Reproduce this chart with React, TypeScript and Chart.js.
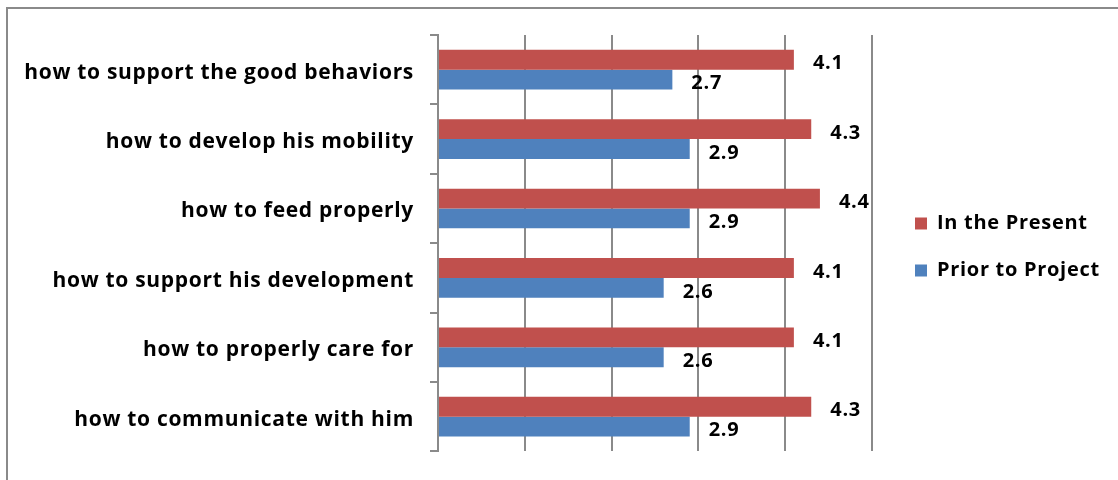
import React, { useEffect, useRef } from "react";
import { Chart, registerables } from "chart.js";

Chart.register(...registerables);

const categories = [
  "how to support the good behaviors",
  "how to develop his mobility",
  "how to feed properly",
  "how to support his development",
  "how to properly care for",
  "how to communicate with him",
];
const presentValues = [4.1, 4.3, 4.4, 4.1, 4.1, 4.3];
const priorValues = [2.7, 2.9, 2.9, 2.6, 2.6, 2.9];
const seriesNames = ["In the Present", "Prior to Project"];

const FONT = "'Open Sans', Lato, sans-serif";
const LETTER_SPACING = "0.7px";

const spacingPlugin = {
  id: "letterSpacing",
  beforeUpdate(chart: any) {
    (chart.ctx as any).letterSpacing = LETTER_SPACING;
  },
  beforeLayout(chart: any) {
    (chart.ctx as any).letterSpacing = LETTER_SPACING;
  },
  beforeDraw(chart: any) {
    (chart.ctx as any).letterSpacing = LETTER_SPACING;
  },
};

const legendPlacePlugin = {
  id: "legendPlace",
  afterInit(chart: any) {
    const lg = chart.legend;
    if (lg && !lg.__patched) {
      const orig = lg.fit.bind(lg);
      lg.fit = function () {
        orig();
        this.width = 246;
      };
      lg.__patched = true;
    }
  },
  afterLayout(chart: any) {
    const lg = chart.legend;
    if (lg) {
      lg.left += 16;
      lg.right += 16;
      lg.top += 2;
      lg.bottom += 2;
    }
  },
};

const borderPlugin = {
  id: "outerBorder",
  beforeDraw(chart: any) {
    const ctx = chart.ctx;
    ctx.save();
    ctx.fillStyle = "#ffffff";
    ctx.fillRect(0, 0, chart.width, chart.height);
    ctx.strokeStyle = "#8a8a8a";
    ctx.lineWidth = 2;
    ctx.strokeRect(7, 8, chart.width + 20, chart.height + 20);
    ctx.restore();
  },
};

const valueLabelPlugin = {
  id: "valueLabels",
  afterDatasetsDraw(chart: any) {
    const ctx = chart.ctx;
    ctx.save();
    ctx.fillStyle = "#000000";
    ctx.font = `bold 20px ${FONT}`;
    ctx.textAlign = "left";
    ctx.textBaseline = "middle";
    chart.data.datasets.forEach((ds: any, di: number) => {
      const meta = chart.getDatasetMeta(di);
      meta.data.forEach((el: any, i: number) => {
        const v = ds.data[i] as number;
        ctx.fillText(v.toFixed(1), el.x + 19, el.y + 4);
      });
    });
    ctx.restore();
  },
};

export default function App() {
  const ref = useRef<HTMLCanvasElement | null>(null);
  useEffect(() => {
    if (!ref.current) return;
    const chart = new Chart(ref.current, {
      type: "bar",
      data: {
        labels: categories,
        datasets: [
          {
            label: seriesNames[0],
            data: presentValues,
            backgroundColor: "#C0504D",
            categoryPercentage: 0.572,
            barPercentage: 1.0,
          },
          {
            label: seriesNames[1],
            data: priorValues,
            backgroundColor: "#4F81BD",
            categoryPercentage: 0.572,
            barPercentage: 1.0,
          },
        ],
      },
      options: {
        indexAxis: "y",
        animation: false,
        responsive: false,
        maintainAspectRatio: false,
        layout: { padding: { left: 0, top: 35, bottom: 25, right: 0 } },
        scales: {
          x: {
            min: 0,
            max: 5,
            ticks: { display: false, stepSize: 1 },
            border: { display: false },
            grid: { color: "#8a8a8a", lineWidth: 2, drawTicks: false },
            afterFit(scale: any) {
              scale.height = 0;
            },
          },
          y: {
            ticks: {
              color: "#000000",
              font: { family: FONT, weight: "bold", size: 21 },
              padding: 16,
              labelOffset: 3,
            },
            border: { display: true, color: "#8a8a8a", width: 2 },
            grid: {
              drawOnChartArea: false,
              drawTicks: true,
              tickLength: 8,
              color: "#8a8a8a",
              lineWidth: 2,
            },
            afterFit(scale: any) {
              scale.width = 438;
            },
          },
        },
        plugins: {
          legend: {
            position: "right",
            align: "center",
            labels: {
              color: "#000000",
              font: { family: FONT, weight: "bold", size: 20 },
              boxWidth: 12,
              boxHeight: 12,
              padding: 27,
            },
          },
          tooltip: { enabled: false },
        },
      },
      plugins: [spacingPlugin, legendPlacePlugin, borderPlugin, valueLabelPlugin],
    });
    return () => chart.destroy();
  }, []);
  return (
    <div style={{ position: "absolute", left: 0, top: 0, width: 1118, height: 480 }}>
      <canvas ref={ref} width={1118} height={480} style={{ display: "block" }} />
    </div>
  );
}
